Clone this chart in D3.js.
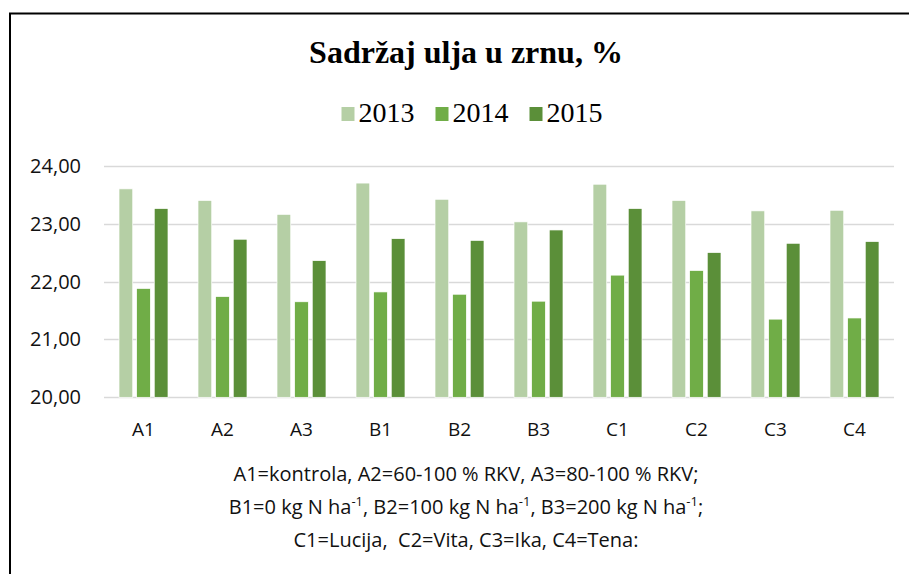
<!DOCTYPE html>
<html>
<head>
<meta charset="utf-8">
<script src="https://cdn.jsdelivr.net/npm/d3@7"></script>
<style>
  body { margin: 0; background: #fff; }
</style>
</head>
<body>
<div id="chart"></div>
<script>
var categories = ["A1", "A2", "A3", "B1", "B2", "B3", "C1", "C2", "C3", "C4"];
var years = ["2013", "2014", "2015"];
var values2013 = [23.60, 23.40, 23.16, 23.70, 23.42, 23.03, 23.68, 23.40, 23.22, 23.23];
var values2014 = [21.88, 21.74, 21.65, 21.82, 21.78, 21.66, 22.11, 22.19, 21.35, 21.37];
var values2015 = [23.26, 22.73, 22.36, 22.74, 22.71, 22.89, 23.26, 22.50, 22.66, 22.69];
var yTicks = [20, 21, 22, 23, 24];
var noteLine1 = "A1=kontrola, A2=60-100 % RKV, A3=80-100 % RKV;";
var noteLine2 = [["B1=0 kg N ha", "-1"], [", B2=100 kg N ha", "-1"], [", B3=200 kg N ha", "-1"], [";", null]];
var noteLine3 = "C1=Lucija,\u00a0 C2=Vita, C3=Ika, C4=Tena:";

var width = 909, height = 574;
var colors = ["#b5cfa5", "#70ad47", "#5b8f39"];
var seriesValues = [values2013, values2014, values2015];
var serif = "'Liberation Serif', 'Times New Roman', serif";
var sans = "'Open Sans', 'Noto Sans', sans-serif";

var svg = d3.select("#chart").append("svg")
  .attr("width", width)
  .attr("height", height);

// frame: only top and left edges are visible
svg.append("line").attr("x1", 9).attr("x2", width).attr("y1", 13.5).attr("y2", 13.5)
  .attr("stroke", "#000").attr("stroke-width", 2);
svg.append("line").attr("x1", 10).attr("x2", 10).attr("y1", 13).attr("y2", height)
  .attr("stroke", "#000").attr("stroke-width", 2);

// title
svg.append("text")
  .attr("x", 466).attr("y", 63)
  .attr("text-anchor", "middle")
  .style("font-family", serif)
  .style("font-weight", "bold")
  .style("font-size", "32px")
  .text("Sadržaj ulja u zrnu, %");

// legend, laid out left to right then centred
var legend = svg.append("g");
var lx = 0;
years.forEach(function (yr, i) {
  legend.append("rect")
    .attr("x", lx).attr("y", 107)
    .attr("width", 13).attr("height", 14)
    .attr("fill", colors[i]);
  var t = legend.append("text")
    .attr("x", lx + 17).attr("y", 122)
    .style("font-family", serif)
    .style("font-size", "28px")
    .text(yr);
  lx += 17 + t.node().getComputedTextLength() + 21;
});
lx -= 21;
legend.attr("transform", "translate(" + (472 - lx / 2) + ",0)");

var x0 = d3.scaleBand().domain(categories).range([104, 894]);
var x1 = d3.scaleBand().domain(years).range([15, 79 - 15]).paddingInner(0.22);
var y = d3.scaleLinear().domain([20, 24]).range([397.3, 165.7]);

// gridlines
svg.append("g").selectAll("line").data(yTicks).enter().append("line")
  .attr("x1", 104).attr("x2", 894)
  .attr("y1", function (d) { return Math.round(y(d)) + 0.5; })
  .attr("y2", function (d) { return Math.round(y(d)) + 0.5; })
  .attr("stroke", "#d9d9d9").attr("stroke-width", 1.5);

// y labels
svg.append("g").selectAll("text").data(yTicks).enter().append("text")
  .attr("x", 81)
  .attr("y", function (d) { return y(d) + 7; })
  .attr("text-anchor", "end")
  .style("font-family", sans)
  .style("font-size", "20px")
  .style("fill", "#111")
  .text(function (d) { return d.toFixed(2).replace(".", ","); });

// bars
var groups = svg.append("g").selectAll("g").data(categories).enter().append("g")
  .attr("transform", function (d) { return "translate(" + x0(d) + ",0)"; });

groups.selectAll("rect")
  .data(function (d, i) {
    return years.map(function (yr, k) { return { year: yr, k: k, value: seriesValues[k][i] }; });
  })
  .enter().append("rect")
  .attr("x", function (d) { return x1(d.year); })
  .attr("width", x1.bandwidth())
  .attr("y", function (d) { return y(d.value); })
  .attr("height", function (d) { return y(20) - y(d.value); })
  .attr("fill", function (d) { return colors[d.k]; })
  .attr("stroke", "#fff")
  .attr("stroke-width", 0.7);

// x labels
svg.append("g").selectAll("text").data(categories).enter().append("text")
  .attr("x", function (d) { return x0(d) + x0.bandwidth() / 2; })
  .attr("y", 436)
  .attr("text-anchor", "middle")
  .style("font-family", sans)
  .style("font-size", "19px")
  .style("fill", "#111")
  .text(function (d) { return d; });

// explanation notes under the chart
var notes = svg.append("g")
  .style("font-family", sans)
  .style("font-size", "20px")
  .style("fill", "#111");

notes.append("text").attr("x", 466).attr("y", 481).attr("text-anchor", "middle").text(noteLine1);

var line2 = notes.append("text").attr("x", 466).attr("y", 514).attr("text-anchor", "middle");
var shifted = false;
noteLine2.forEach(function (p) {
  line2.append("tspan").attr("dy", shifted ? 8 : 0).text(p[0]);
  shifted = false;
  if (p[1]) {
    line2.append("tspan").attr("dy", -8).style("font-size", "13px").text(p[1]);
    shifted = true;
  }
});

notes.append("text").attr("x", 466).attr("y", 547).attr("text-anchor", "middle").text(noteLine3);
</script>
</body>
</html>
